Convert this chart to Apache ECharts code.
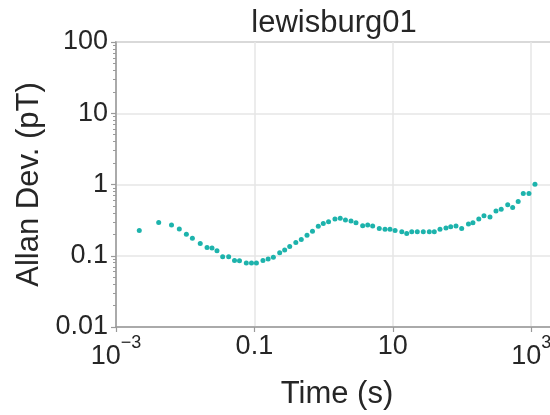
<!DOCTYPE html>
<html>
<head>
<meta charset="utf-8">
<title>lewisburg01</title>
<script src="https://cdn.jsdelivr.net/npm/echarts@6/dist/echarts.min.js"></script>
<style>
  html, body { margin: 0; padding: 0; background: #ffffff; }
  #chart { width: 550px; height: 415px; }
</style>
</head>
<body>
<div id="chart"></div>
<script>
// Averaging times (s)
const times = [
  0.00217, 0.00414, 0.00634, 0.00822, 0.0104, 0.0127, 0.0165, 0.0207, 0.0244, 0.0288,
  0.0348, 0.0425, 0.0516, 0.0609, 0.0764, 0.0908, 0.107, 0.133, 0.158, 0.188,
  0.232, 0.274, 0.324, 0.397, 0.476, 0.576, 0.691, 0.838, 0.990, 1.18,
  1.46, 1.74, 2.07, 2.49, 2.94, 3.67, 4.34, 5.12, 6.38, 7.72,
  9.11, 10.8, 13.5, 15.9, 18.8, 22.6, 27.6, 33.7, 39.8, 48.1,
  58.7, 68.7, 81.9, 99.0, 124, 144, 175, 208, 254, 310,
  369, 458, 540, 649, 769, 929, 1135
];

// Allan deviation (pT)
const allanDev = [
  0.227, 0.292, 0.270, 0.237, 0.200, 0.176, 0.149, 0.131, 0.128, 0.118,
  0.097, 0.097, 0.086, 0.085, 0.079, 0.079, 0.079, 0.086, 0.090, 0.095,
  0.110, 0.120, 0.135, 0.154, 0.169, 0.194, 0.220, 0.259, 0.283, 0.301,
  0.329, 0.335, 0.317, 0.307, 0.290, 0.264, 0.270, 0.261, 0.242, 0.235,
  0.235, 0.227, 0.217, 0.206, 0.217, 0.217, 0.217, 0.217, 0.217, 0.235,
  0.246, 0.255, 0.261, 0.242, 0.278, 0.290, 0.329, 0.364, 0.349, 0.426,
  0.448, 0.521, 0.477, 0.579, 0.750, 0.750, 1.006
];

// Tick labels
const xTickExponents = [-3, -1, 1, 3];
const xTickBase = ['10', '0.1', '10', '10'];
const xTickSup = ['\u22123', '', '', '3'];
const yTickExponents = [-2, -1, 0, 1, 2];
const yTickText = ['0.01', '0.1', '1', '10', '100'];

const chartTitle = 'lewisburg01';
const xName = 'Time (s)';
const yName = 'Allan Dev. (pT)';

const FONT = '"Liberation Sans", Arial, Helvetica, sans-serif';
const TEXT = '#262626';
const AXIS = '#9a9a9a';
const GRID = '#e6e6e6';
const DOT = '#1db3ac';

const points = times.map((t, i) => [t, allanDev[i]]);

function expOf(v) { return Math.round(Math.log10(v)); }
function near(v, e) { return Math.abs(Math.log10(v) - e) < 1e-6; }

const chart = echarts.init(document.getElementById('chart'), null, { renderer: 'canvas' });

chart.setOption({
  animation: false,
  backgroundColor: '#ffffff',
  title: {
    text: chartTitle,
    left: 329,
    top: 3,
    textAlign: 'center',
    textStyle: { fontFamily: FONT, fontSize: 31, fontWeight: 'normal', color: TEXT }
  },
  grid: {
    left: 116,
    right: -2,
    top: 42,
    bottom: 88,
    show: true,
    borderColor: AXIS,
    borderWidth: 1.5,
    containLabel: false,
    outerBoundsMode: 'none'
  },
  xAxis: {
    type: 'log',
    logBase: 10,
    min: 0.001,
    max: 2000,
    interval: 2,
    name: xName,
    nameLocation: 'middle',
    nameGap: 52,
    nameTextStyle: { fontFamily: FONT, fontSize: 31, color: TEXT, padding: [0, 0, 0, 6] },
    axisLine: { show: true, lineStyle: { color: AXIS, width: 1.5 } },
    axisTick: { show: true, inside: false, length: 5, lineStyle: { color: AXIS, width: 1.2 } },
    splitLine: { show: true, lineStyle: { color: GRID, width: 1.5 } },
    axisLabel: {
      margin: 6,
      verticalAlign: 'top',
      formatter: function (v) {
        for (let i = 0; i < xTickExponents.length; i++) {
          if (near(v, xTickExponents[i])) {
            if (xTickSup[i]) return '{b|' + xTickBase[i] + '}{s|' + xTickSup[i] + '}';
            return '{p|' + xTickBase[i] + '}';
          }
        }
        return '';
      },
      rich: {
        p: { fontFamily: FONT, fontSize: 27, color: TEXT, verticalAlign: 'top', padding: [0, 0, 0, 0] },
        b: { fontFamily: FONT, fontSize: 27, color: TEXT, verticalAlign: 'top', padding: [10, 0, 0, 0] },
        s: { fontFamily: FONT, fontSize: 18, color: TEXT, verticalAlign: 'top', padding: [1, 0, 0, 0] }
      }
    }
  },
  yAxis: {
    type: 'log',
    logBase: 10,
    min: 0.01,
    max: 100,
    name: yName,
    nameLocation: 'middle',
    nameGap: 54,
    nameTextStyle: { fontFamily: FONT, fontSize: 31, color: TEXT },
    axisLine: { show: true, lineStyle: { color: AXIS, width: 1.5 } },
    axisTick: { show: true, inside: false, length: 5, lineStyle: { color: AXIS, width: 1.2 } },
    minorTick: { show: true, splitNumber: 9, length: 3, lineStyle: { color: AXIS, width: 1 } },
    splitLine: { show: true, lineStyle: { color: GRID, width: 1.5 } },
    axisLabel: {
      margin: 8,
      fontFamily: FONT,
      fontSize: 27,
      color: TEXT,
      formatter: function (v) {
        const e = expOf(v);
        const i = yTickExponents.indexOf(e);
        return i >= 0 && near(v, e) ? yTickText[i] : '';
      }
    }
  },
  series: [{
    type: 'scatter',
    data: points,
    symbol: 'circle',
    symbolSize: 5,
    itemStyle: { color: DOT, opacity: 1 },
    emphasis: { disabled: true }
  }]
});
</script>
</body>
</html>
